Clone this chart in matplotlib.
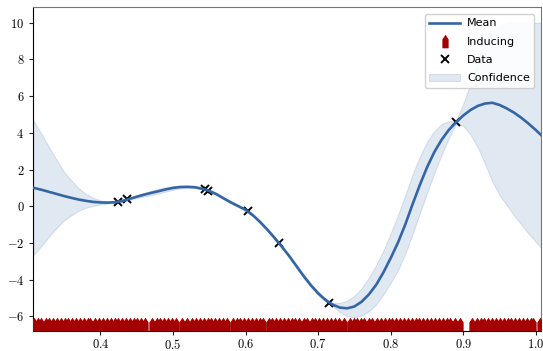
#!/usr/bin/env python3

import numpy as np
import matplotlib
matplotlib.use("Agg")
import matplotlib.pyplot as plt
from matplotlib.path import Path
from matplotlib.ticker import FuncFormatter

DPI = 100

# posterior evaluated on a coarse grid
x_grid = [0.3077, 0.32, 0.33, 0.34, 0.35, 0.36, 0.37, 0.38, 0.39, 0.40,
          0.41, 0.42, 0.43, 0.44, 0.45, 0.46, 0.47, 0.48, 0.49, 0.50,
          0.51, 0.52, 0.53, 0.54, 0.55, 0.56, 0.57, 0.58, 0.59, 0.60,
          0.61, 0.62, 0.63, 0.64, 0.65, 0.66, 0.67, 0.68, 0.69, 0.70,
          0.71, 0.72, 0.73, 0.74, 0.75, 0.76, 0.77, 0.78, 0.79, 0.80,
          0.81, 0.82, 0.83, 0.84, 0.85, 0.86, 0.87, 0.88, 0.89, 0.90,
          0.91, 0.92, 0.93, 0.94, 0.95, 0.96, 0.97, 0.98, 0.99, 1.00, 1.008]
mean = [1.01, 0.89, 0.78, 0.67, 0.56, 0.46, 0.37, 0.30, 0.24, 0.21,
        0.20, 0.22, 0.29, 0.40, 0.52, 0.63, 0.73, 0.82, 0.92, 1.00,
        1.05, 1.06, 1.04, 0.96, 0.84, 0.66, 0.43, 0.21, 0.01, -0.19,
        -0.48, -0.85, -1.27, -1.72, -2.20, -2.70, -3.25, -3.80, -4.30, -4.74,
        -5.10, -5.36, -5.52, -5.56, -5.46, -5.20, -4.80, -4.28, -3.60, -2.82,
        -1.98, -1.00, 0.10, 1.15, 2.12, 2.95, 3.62, 4.16, 4.58, 4.95,
        5.25, 5.47, 5.60, 5.64, 5.52, 5.33, 5.10, 4.82, 4.50, 4.15, 3.85]
upper = [4.69, 3.89, 3.18, 2.52, 1.89, 1.41, 0.99, 0.68, 0.46, 0.33,
         0.26, 0.26, 0.33, 0.45, 0.60, 0.73, 0.85, 0.95, 1.04, 1.10,
         1.13, 1.12, 1.09, 1.00, 0.88, 0.71, 0.49, 0.27, 0.07, -0.14,
         -0.42, -0.78, -1.19, -1.65, -2.14, -2.63, -3.17, -3.70, -4.20, -4.64,
         -5.02, -5.26, -5.27, -5.14, -4.88, -4.45, -3.88, -3.20, -2.40, -1.47,
         -0.48, 0.60, 1.72, 2.70, 3.52, 4.10, 4.48, 4.64, 4.66, 5.60,
         6.70, 7.90, 8.90, 9.50, 9.85, 9.98, 10.0, 10.0, 10.0, 10.0, 10.0]
lower = [-2.67, -2.11, -1.62, -1.18, -0.77, -0.49, -0.25, -0.08, 0.02, 0.09,
         0.14, 0.18, 0.25, 0.35, 0.44, 0.53, 0.61, 0.69, 0.80, 0.90,
         0.97, 1.00, 0.99, 0.92, 0.80, 0.61, 0.37, 0.15, -0.05, -0.24,
         -0.54, -0.92, -1.35, -1.79, -2.26, -2.77, -3.33, -3.90, -4.40, -4.84,
         -5.18, -5.46, -5.77, -5.98, -6.04, -5.95, -5.72, -5.36, -4.80, -4.17,
         -3.48, -2.60, -1.52, -0.40, 0.72, 1.80, 2.80, 3.71, 4.48, 4.38,
         3.90, 3.20, 2.30, 1.35, 0.60, 0.05, -0.50, -1.00, -1.50, -1.95, -2.29]

# observations
x_data = [0.424, 0.4373, 0.5442, 0.548, 0.603, 0.6457, 0.715, 0.8905]
y_data = [0.245, 0.376, 0.92, 0.86, -0.26, -2.02, -5.26, 4.59]

# inducing inputs
z_inducing = [
    0.3085, 0.3138, 0.3190, 0.3247, 0.3296, 0.3352, 0.3401, 0.3458, 0.3509,
    0.3562, 0.3614, 0.3668, 0.3720, 0.3771, 0.3826, 0.3862,
    0.3932, 0.3985, 0.4038, 0.4090, 0.4143, 0.4197, 0.4249, 0.4302, 0.4355,
    0.4408, 0.4460, 0.4512, 0.4566, 0.4615,
    0.4708, 0.4775, 0.4828, 0.4880, 0.4934, 0.4988, 0.5045,
    0.5125, 0.5188,
    0.5265, 0.5318, 0.5372, 0.5425, 0.5477, 0.5531, 0.5584, 0.5637, 0.5690,
    0.5745,
    0.5825, 0.5878, 0.5930, 0.5985, 0.6038, 0.6090, 0.6142, 0.6195, 0.6240,
    0.6318, 0.6370, 0.6423, 0.6476, 0.6530, 0.6582, 0.6635, 0.6688, 0.6740,
    0.6800, 0.6852, 0.6910, 0.6962, 0.7015, 0.7068, 0.7120, 0.7175, 0.7230,
    0.7290, 0.7352,
    0.7435, 0.7488, 0.7540, 0.7590, 0.7632,
    0.7698, 0.7748,
    0.7812, 0.7865, 0.7918, 0.7970, 0.8023, 0.8076, 0.8130, 0.8183, 0.8236,
    0.8290, 0.8343, 0.8396, 0.8450, 0.8503, 0.8556, 0.8610, 0.8663, 0.8716,
    0.8770, 0.8823, 0.8880, 0.8948,
    0.9120, 0.9185, 0.9238, 0.9290, 0.9343, 0.9396, 0.9450, 0.9503, 0.9556,
    0.9610, 0.9663, 0.9716, 0.9770, 0.9823, 0.9876, 0.9930, 0.9960,
    1.0055,
]
INDUCING_Y = -6.39

x_ticks = [0.4, 0.5, 0.6, 0.7, 0.8, 0.9, 1.0]
y_ticks = [-6, -4, -2, 0, 2, 4, 6, 8, 10]

MEAN_COLOR = "#3465a4"
INDUCING_COLOR = "#a40000"

plt.rcParams["mathtext.fontset"] = "cm"

# pencil-shaped marker for the inducing inputs
pencil = Path([(-0.46, -1.0), (0.46, -1.0), (0.46, 0.3), (0.18, 0.72),
               (0.0, 1.0), (-0.18, 0.72), (-0.46, 0.3), (-0.46, -1.0)],
              [Path.MOVETO] + [Path.LINETO] * 6 + [Path.CLOSEPOLY])

fig = plt.figure(figsize=(543 / DPI, 351 / DPI), dpi=DPI)
ax = fig.add_axes([0.0613, 0.0578, 0.9350, 0.9212])

ax.fill_between(x_grid, lower, upper, color=MEAN_COLOR, alpha=0.15,
                lw=0.8, label="Confidence", zorder=1)
ax.plot(x_data, y_data, "kx", ms=5.5, mew=1.4, label="Data", zorder=2)
ax.plot(x_grid, mean, color=MEAN_COLOR, lw=1.9, label="Mean", zorder=3)
ax.plot(z_inducing, np.full(len(z_inducing), INDUCING_Y), ls="none",
        marker=pencil, ms=9.8, color=INDUCING_COLOR, mew=0,
        label="Inducing", zorder=4)

ax.set_xlim(0.3077, 1.007)
ax.set_ylim(-6.78, 10.84)
ax.set_xticks(x_ticks)
ax.set_yticks(y_ticks)
ax.xaxis.set_major_formatter(FuncFormatter(lambda v, p: "$%.1f$" % v))
ax.yaxis.set_major_formatter(FuncFormatter(lambda v, p: "$%d$" % v))
ax.tick_params(labelsize=9, length=3, width=0.8, color="#222222")
ax.tick_params(axis="x", pad=2)

for side in ["top", "right"]:
    ax.spines[side].set_color("#777777")
for side in ["left", "bottom"]:
    ax.spines[side].set_color("black")

handles, labels = ax.get_legend_handles_labels()
order = [labels.index(n) for n in ["Mean", "Inducing", "Data", "Confidence"]]
ax.legend([handles[i] for i in order], [labels[i] for i in order],
          loc="upper right", fontsize=8, framealpha=0.9, edgecolor="#cccccc",
          handlelength=2.8, handletextpad=0.6, labelspacing=0.75,
          borderaxespad=0.6)

fig.savefig("out.png", dpi=DPI)
